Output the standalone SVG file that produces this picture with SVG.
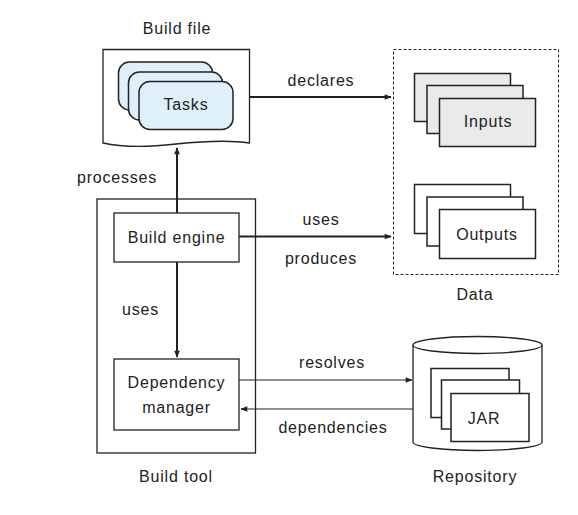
<svg xmlns="http://www.w3.org/2000/svg" width="578" height="515" viewBox="0 0 578 515">
<defs>
<style>
text{font-family:"Liberation Sans",Arial,sans-serif;font-size:16px;fill:#222;letter-spacing:0.8px}
.c{text-anchor:middle}
.box{fill:#fff;stroke:#222;stroke-width:1.3}
.task{fill:#dff0fb;stroke:#222;stroke-width:1.5}
.inp{fill:#e8ebea;stroke:#222;stroke-width:1.5}
.out{fill:#fff;stroke:#222;stroke-width:1.5}
.thick{stroke:#222;stroke-width:2;fill:none}
.thin{stroke:#222;stroke-width:1.1;fill:none}
</style>
<marker id="ah" viewBox="0 0 10 10" refX="9" refY="5" markerWidth="9" markerHeight="7" markerUnits="userSpaceOnUse" orient="auto">
<path d="M0,1 L10,5 L0,9 z" fill="#222"/>
</marker>
</defs>
<rect width="578" height="515" fill="#fff"/>

<g id="build-file">
<path d="M103,49.5 H249.5 V143 C230,140 205,141 176,144 C150,147 125,148 103,143 Z" class="box"/>
<text x="177" y="34" class="c">Build file</text>
<rect x="118.5" y="62" width="94" height="48" rx="11" class="task"/>
<rect x="128.5" y="72" width="94" height="48" rx="11" class="task"/>
<rect x="139" y="81.5" width="94" height="48" rx="11" class="task"/>
<text x="186" y="110" class="c">Tasks</text>
</g>

<g id="build-tool">
<rect x="97" y="199" width="158.5" height="254" class="box"/>
<text x="176" y="482" class="c">Build tool</text>
</g>

<g id="build-engine">
<rect x="114" y="213" width="125" height="49" class="box"/>
<text x="176.5" y="243" class="c">Build engine</text>
</g>

<g id="dependency-manager">
<rect x="114" y="359" width="125" height="71" class="box"/>
<text x="176.5" y="388" class="c">Dependency</text>
<text x="176.5" y="413" class="c">manager</text>
</g>

<g id="data">
<rect x="393.5" y="49.5" width="165" height="225" fill="none" stroke="#222" stroke-width="1" stroke-dasharray="3,2"/>
<text x="475" y="300" class="c">Data</text>
</g>

<g id="inputs">
<rect x="414.5" y="73.5" width="96" height="48" class="inp"/>
<rect x="427" y="85.5" width="96" height="48" class="inp"/>
<rect x="439.5" y="98.5" width="96" height="48" class="inp"/>
<text x="488" y="127" class="c">Inputs</text>
</g>

<g id="outputs">
<rect x="414.5" y="184.5" width="96" height="49" class="out" stroke-width="1"/>
<rect x="427" y="197" width="96" height="49" class="out"/>
<rect x="439.5" y="209.5" width="96" height="49" class="out" stroke-width="1"/>
<text x="487" y="240" class="c">Outputs</text>
</g>

<g id="repository">
<path d="M413,345 V442 A64.5,8.5 0 0 0 542,442 V345" fill="#fff" stroke="#222" stroke-width="1.3"/>
<ellipse cx="477.5" cy="345" rx="64.5" ry="8.5" fill="#fff" stroke="#222" stroke-width="1.3"/>
<rect x="431" y="368.5" width="78" height="49" class="out"/>
<rect x="441.5" y="380" width="78" height="49" class="out"/>
<rect x="451" y="393.5" width="78" height="48" class="out" stroke-width="1"/>
<text x="484" y="424" class="c">JAR</text>
<text x="475" y="482" class="c">Repository</text>
</g>

<g id="connectors">
<line x1="177" y1="213" x2="177" y2="148" class="thick" marker-end="url(#ah)"/>
<text x="77" y="183">processes</text>
<line x1="249.5" y1="97" x2="391" y2="97" class="thick" marker-end="url(#ah)"/>
<text x="321" y="86" class="c">declares</text>
<line x1="239" y1="236.5" x2="391" y2="236.5" class="thick" marker-end="url(#ah)"/>
<text x="321" y="225" class="c">uses</text>
<text x="321" y="264" class="c">produces</text>
<line x1="177" y1="262" x2="177" y2="357" class="thick" marker-end="url(#ah)"/>
<text x="122" y="315">uses</text>
<line x1="239" y1="380" x2="412" y2="380" class="thin" marker-end="url(#ah)"/>
<text x="332" y="368" class="c">resolves</text>
<line x1="413" y1="409" x2="241" y2="409" class="thin" marker-end="url(#ah)"/>
<text x="333" y="433" class="c">dependencies</text>
</g>
</svg>
